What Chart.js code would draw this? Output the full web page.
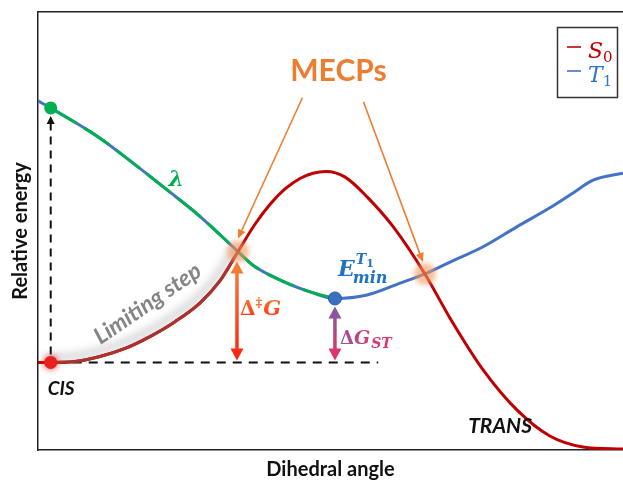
<!DOCTYPE html>
<html lang="en">
<head>
<meta charset="utf-8">
<title>S0 / T1 isomerisation profile</title>
<script src="https://cdn.jsdelivr.net/npm/chart.js@4.4.1/dist/chart.umd.min.js"></script>
<style>
  html, body { margin: 0; padding: 0; background: #fff; }
  canvas { display: block; }
</style>
</head>
<body>
<canvas id="profile" width="623" height="481"></canvas>
<script>
// Dihedral angle (deg, CIS = 0, TRANS = 180) and relative energy (arb. units, CIS = 0)
const s0Angle  = [-4, 0, 7.6, 15.5, 23.4, 31.2, 39.1, 47.0, 53.2, 58.9, 64.3, 69.0, 73.7, 78.4, 82.5, 86.6, 92.6, 99.5, 107.7, 117.7, 125.6, 136, 146.7, 157, 167.4, 180];
const s0Energy = [0, 0, 0.2, 1.35, 3.2, 5.9, 9.3, 13.6, 18.6, 25.3, 31.6, 36.1, 39.6, 42.0, 43.2, 43.6, 42.3, 37.8, 31.0, 20.2, 10.1, -1.7, -10.9, -16.8, -19.3, -19.8];

const t1Angle  = [-4, 0, 15.5, 25.9, 36.6, 47.0, 58.9, 63.6, 74.3, 81.6, 89.4, 99.5, 109.9, 117.7, 125.6, 136, 146.7, 157, 164.3, 170.6, 180];
const t1Energy = [59.7, 58.1, 51.2, 45.5, 39.4, 33.3, 25.3, 22.2, 18.1, 16.1, 14.6, 15.4, 18.1, 20.2, 22.9, 26.4, 31.0, 35.3, 38.7, 41.6, 43.2];

// minimum-energy crossing points between the two surfaces
const mecpAngle  = [58.9, 117.7];
const mecpEnergy = [25.3, 20.2];

// extent of the CIS reference level and of the axes
const cisLevelEnd = 103;
const angleRange  = [-4, 180];
const energyRange = [-20, 80];

const zip = (xs, ys) => xs.map((x, i) => ({ x, y: ys[i] }));
const s0Pts = zip(s0Angle, s0Energy);
const t1Pts = zip(t1Angle, t1Energy);
const mecpPts = zip(mecpAngle, mecpEnergy);
const cisPt = s0Pts[s0Angle.indexOf(0)];
const fcPt = t1Pts[t1Angle.indexOf(0)];
const t1MinPt = t1Pts[t1Energy.indexOf(Math.min(...t1Energy))];
const lambdaPts = t1Pts.filter(p => p.x >= 0 && p.x <= t1MinPt.x);
const limitingPts = s0Pts.filter(p => p.x >= 0 && p.x <= mecpAngle[0]);

const SANS = 'Lato, "Open Sans", sans-serif';
const SERIF = '"DejaVu Serif", serif';

function head(ctx, x, y, ang, len, half) {
  ctx.beginPath();
  ctx.moveTo(x, y);
  ctx.lineTo(x - len * Math.cos(ang) + half * Math.sin(ang), y - len * Math.sin(ang) - half * Math.cos(ang));
  ctx.lineTo(x - len * Math.cos(ang) - half * Math.sin(ang), y - len * Math.sin(ang) + half * Math.cos(ang));
  ctx.closePath();
  ctx.fill();
}

function doubleArrow(ctx, x, yTop, yBot, paint, w, len, half) {
  ctx.strokeStyle = paint; ctx.fillStyle = paint; ctx.lineWidth = w;
  ctx.beginPath(); ctx.moveTo(x, yTop + len - 1); ctx.lineTo(x, yBot - len + 1); ctx.stroke();
  head(ctx, x, yTop, -Math.PI / 2, len, half);
  head(ctx, x, yBot, Math.PI / 2, len, half);
}

function pointer(ctx, x1, y1, x2, y2, color) {
  const ang = Math.atan2(y2 - y1, x2 - x1);
  ctx.strokeStyle = color; ctx.fillStyle = color; ctx.lineWidth = 1.6;
  ctx.beginPath(); ctx.moveTo(x1, y1);
  ctx.lineTo(x2 - 7 * Math.cos(ang), y2 - 7 * Math.sin(ang)); ctx.stroke();
  head(ctx, x2, y2, ang, 9, 4);
}

function runs(ctx, x, y, parts, paint) {
  for (const p of parts) {
    ctx.font = p.font;
    ctx.fillStyle = p.color || paint;
    ctx.fillText(p.t, x, y + (p.dy || 0));
    x += ctx.measureText(p.t).width + (p.gap || 0);
  }
}

// soft shadow / blur for individual datasets
const effects = {
  id: 'effects',
  beforeDatasetDraw(chart, args) {
    const ds = chart.data.datasets[args.index];
    const ctx = chart.ctx;
    if (ds.glow) {
      ctx.save();
      ctx.shadowColor = ds.glow.color; ctx.shadowBlur = ds.glow.blur;
      ctx.shadowOffsetX = ds.glow.dx || 0; ctx.shadowOffsetY = ds.glow.dy || 0;
    }
    if (ds.blur) { ctx.save(); ctx.filter = 'blur(' + ds.blur + 'px)'; }
  },
  afterDatasetDraw(chart, args) {
    const ds = chart.data.datasets[args.index];
    if (ds.blur) chart.ctx.restore();
    if (ds.glow) chart.ctx.restore();
  }
};

const annotations = {
  id: 'annotations',
  beforeDatasetsDraw(chart) {
    const { ctx, scales: { x, y } } = chart;
    const X = v => x.getPixelForValue(v), Y = v => y.getPixelForValue(v);
    const x0 = X(cisPt.x), y0 = Y(cisPt.y), yFc = Y(fcPt.y);
    ctx.save();
    ctx.strokeStyle = '#111'; ctx.fillStyle = '#111'; ctx.lineWidth = 2;
    ctx.setLineDash([9, 7]);
    ctx.beginPath(); ctx.moveTo(x0 + 6, y0); ctx.lineTo(X(cisLevelEnd), y0); ctx.stroke();
    ctx.setLineDash([8, 6]);
    ctx.beginPath(); ctx.moveTo(x0, y0 - 8); ctx.lineTo(x0, yFc + 16); ctx.stroke();
    ctx.setLineDash([]);
    head(ctx, x0, yFc + 8, -Math.PI / 2, 8, 4);
    ctx.restore();
  },
  afterDatasetsDraw(chart) {
    const { ctx, scales: { x, y } } = chart;
    const X = v => x.getPixelForValue(v), Y = v => y.getPixelForValue(v);
    const y0 = Y(cisPt.y);
    ctx.save();

    // activation barrier at the first crossing
    const xa = X(mecpAngle[0]) - 1;
    const ya = Y(mecpEnergy[0]) + 10;
    let g = ctx.createLinearGradient(0, ya, 0, y0);
    g.addColorStop(0, '#f5843a'); g.addColorStop(1, '#ff1e0c');
    doubleArrow(ctx, xa, ya, y0 - 2, g, 3.5, 12, 6.5);

    // singlet-triplet gap at the T1 minimum
    const xb = X(t1MinPt.x);
    const yb = Y(t1MinPt.y) + 8;
    g = ctx.createLinearGradient(0, yb, 0, y0);
    g.addColorStop(0, '#7b5ca9'); g.addColorStop(1, '#ee2f5e');
    doubleArrow(ctx, xb, yb, y0 - 2, g, 3.5, 12, 6.5);

    // MECPs label with pointers
    ctx.textAlign = 'center'; ctx.textBaseline = 'alphabetic';
    const lx = X(90.5), ly = Y(64.3);
    ctx.font = 'bold 30px ' + SANS; ctx.fillStyle = '#ed7d31';
    ctx.fillText('MECPs', lx, ly);
    pointer(ctx, lx - 36, ly + 17, X(mecpAngle[0]), Y(mecpEnergy[0]) - 13, '#ed7d31');
    pointer(ctx, lx + 25, ly + 21, X(mecpAngle[1]) - 2, Y(mecpEnergy[1]) - 12, '#ed7d31');

    // state labels
    ctx.textAlign = 'left';
    ctx.font = 'italic bold 19px ' + SANS; ctx.fillStyle = '#111';
    ctx.fillText('CIS', X(cisPt.x) - 3, y0 + 33);
    ctx.font = 'italic bold 21px ' + SANS;
    ctx.fillText('TRANS', X(131.3), Y(-16.1));

    // lambda on the T1 branch
    ctx.textAlign = 'center'; ctx.textBaseline = 'middle';
    ctx.font = 'italic bold 22px ' + SERIF; ctx.fillStyle = '#00b050';
    ctx.fillText('λ', X(39.5), Y(41.6));

    // limiting step along the S0 rise
    ctx.save();
    ctx.translate(X(30.5), Y(13.4));
    ctx.rotate(-34.5 * Math.PI / 180);
    ctx.font = 'italic bold 23px ' + SANS; ctx.fillStyle = '#858585';
    ctx.fillText('Limiting step', 0, 0);
    ctx.restore();

    ctx.textAlign = 'left'; ctx.textBaseline = 'alphabetic';
    // Δ‡G
    const gx = xa + 3, gy = y0 - 47;
    g = ctx.createLinearGradient(0, gy - 18, 0, gy);
    g.addColorStop(0, '#f47a2a'); g.addColorStop(1, '#ff3a1c');
    runs(ctx, gx, gy, [
      { t: 'Δ', font: 'bold 20px ' + SERIF },
      { t: '‡', font: 'bold 13px ' + SERIF, dy: -8, gap: 1 },
      { t: 'G', font: 'italic bold 21px ' + SERIF }
    ], g);

    // ΔG_ST
    const sx = xb + 5, sy = y0 - 18;
    g = ctx.createLinearGradient(sx, 0, sx + 45, 0);
    g.addColorStop(0, '#a04f98'); g.addColorStop(1, '#e8336b');
    runs(ctx, sx, sy, [
      { t: 'Δ', font: 'bold 18px ' + SERIF },
      { t: 'G', font: 'italic bold 19px ' + SERIF, gap: 1 },
      { t: 'ST', font: 'italic bold 14px ' + SERIF, dy: 4 }
    ], g);

    // E_min^T1
    const ex = xb + 3, ey = Y(t1MinPt.y) - 22;
    ctx.fillStyle = '#2272c3';
    ctx.font = 'italic bold 22px ' + SERIF;
    ctx.fillText('E', ex, ey);
    const ew = ctx.measureText('E').width;
    runs(ctx, ex + ew + 1, ey - 12, [
      { t: 'T', font: 'italic bold 14px ' + SERIF },
      { t: '1', font: 'bold 11px ' + SERIF, dy: 3 }
    ], '#2272c3');
    ctx.font = 'italic bold 16px ' + SERIF;
    ctx.fillText('min', ex + ew - 2, ey + 7);

    ctx.restore();
  },
  afterDraw(chart) {
    const { ctx, chartArea } = chart;
    // legend box with state symbols
    const bx = chartArea.right - 66, by = chartArea.top + 15, bw = 60, bh = 70;
    ctx.save();
    ctx.fillStyle = '#fff';
    ctx.fillRect(bx, by, bw, bh);
    ctx.strokeStyle = '#333'; ctx.lineWidth = 1.5;
    ctx.strokeRect(bx + 0.5, by + 0.5, bw, bh);
    const entries = chart.data.datasets.filter(d => d.symbol);
    entries.forEach((d, i) => {
      const base = by + 31 + i * 24;
      ctx.strokeStyle = d.borderColor; ctx.lineWidth = 1.6;
      ctx.beginPath(); ctx.moveTo(bx + 10, base - 11); ctx.lineTo(bx + 24, base - 11); ctx.stroke();
      runs(ctx, bx + 31, base, [
        { t: d.symbol[0], font: 'italic 22px ' + SERIF },
        { t: d.symbol[1], font: '15px ' + SERIF, dy: 4 }
      ], d.textColor);
    });
    ctx.restore();
  }
};

const line = (extra) => Object.assign({
  showLine: true, pointRadius: 0, borderWidth: 3, fill: false,
  cubicInterpolationMode: 'monotone'
}, extra);

new Chart(document.getElementById('profile'), {
  type: 'scatter',
  data: {
    datasets: [
      line({ label: 'S0', data: s0Pts, borderColor: '#c00000', order: 3, symbol: ['S', '0'], textColor: '#c00000' }),
      line({ label: 'T1', data: t1Pts, borderColor: '#4472c4', order: 5, symbol: ['T', '1'], textColor: '#2e75c6' }),
      line({ label: 'λ', data: lambdaPts, borderColor: '#00b050', borderDash: [30, 9], order: 4 }),
      line({ label: 'Limiting step', data: limitingPts, borderColor: '#a8342f', order: 2,
             glow: { color: 'rgba(70,70,70,0.5)', blur: 9, dx: -3, dy: -5 } }),
      { label: 'CIS', data: [cisPt], pointRadius: 6.5, pointBackgroundColor: '#e8211c', pointBorderWidth: 0, order: 1,
        glow: { color: 'rgba(230,40,40,0.9)', blur: 6 } },
      { label: 'Vertical excitation', data: [fcPt], pointRadius: 6.5, pointBackgroundColor: '#00b050', pointBorderWidth: 0, order: 1 },
      { label: 'T1 minimum', data: [t1MinPt], pointRadius: 6.5, pointBackgroundColor: '#3a70c4', pointBorderColor: '#2a5aa8', pointBorderWidth: 1, order: 1 },
      { label: 'MECP', data: mecpPts, pointRadius: 11, pointBackgroundColor: 'rgba(241,150,90,0.6)', pointBorderWidth: 0, order: 0, blur: 2.5 }
    ]
  },
  options: {
    responsive: false,
    animation: false,
    events: [],
    devicePixelRatio: 1,
    layout: { autoPadding: false, padding: { top: 12, right: 0, left: 0, bottom: 0 } },
    plugins: { legend: { display: false }, tooltip: { enabled: false } },
    scales: {
      x: {
        type: 'linear', min: angleRange[0], max: angleRange[1],
        grid: { display: false }, ticks: { display: false },
        border: { display: true, color: '#222', width: 1.5 },
        title: { display: true, text: 'Dihedral angle', color: '#111',
                 font: { family: SANS, size: 20, weight: 'bold' }, padding: { top: 0, bottom: -1 } },
        afterFit: s => { s.height = 31; }
      },
      xTop: {
        type: 'linear', position: 'top', min: 0, max: 1,
        grid: { display: false }, ticks: { display: false },
        border: { display: true, color: '#222', width: 1.5 },
        afterFit: s => { s.height = 0; }
      },
      y: {
        type: 'linear', min: energyRange[0], max: energyRange[1],
        grid: { display: false }, ticks: { display: false },
        border: { display: true, color: '#222', width: 1.5 },
        title: { display: true, text: 'Relative energy', color: '#111',
                 font: { family: SANS, size: 20, weight: 'bold' }, padding: { top: 9, bottom: 0 } },
        afterFit: s => { s.width = 38; }
      }
    }
  },
  plugins: [effects, annotations]
});
</script>
</body>
</html>
